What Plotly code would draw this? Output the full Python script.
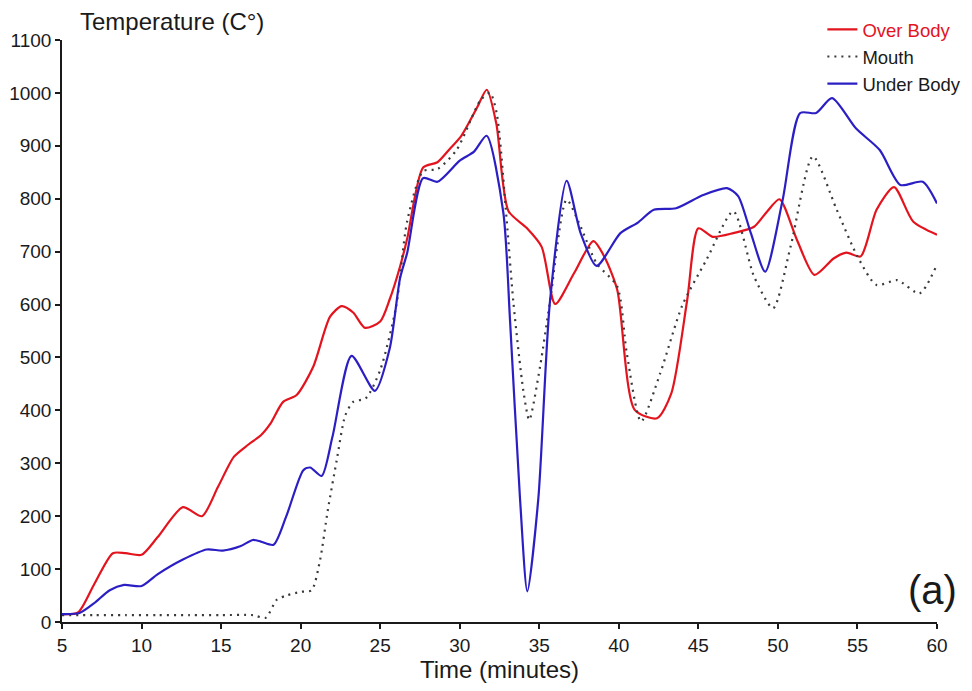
import plotly.graph_objects as go

# ---- data ----
over_t = [5, 6, 7, 8.2, 9, 10, 11, 12.6, 13.8, 14.8, 15.8, 16.7, 17.5, 18.1, 18.9, 19.75, 20.8, 21.85,
          22.58, 23.3, 24.05, 25.0, 25.6, 26.25, 26.7, 27.7, 28.6, 29.4, 30.1, 31.1, 31.7, 32.3, 33.06,
          34.2, 35.15, 36.0, 37.2, 38.4, 39.1, 39.9, 41.0, 42.4, 43.3, 44.3, 45.0, 45.9, 47.2, 48.5,
          49.3, 50.1, 51.2, 52.3, 53.5, 54.3, 55.2, 56.2, 57.3, 58.5, 60]
over_v = [15, 18, 70, 130, 130, 127, 160, 217, 200, 255, 312, 335, 353, 375, 416, 429, 483, 577,
          597, 585, 556, 568, 610, 672, 725, 859, 869, 895, 919, 973, 1006, 942, 777,
          745, 709, 601, 660, 720, 690, 628, 401, 385, 432, 609, 744, 728, 735, 747,
          775, 799, 722, 656, 687, 698, 691, 779, 822, 757, 732]

mouth_t = [5, 7, 9, 11, 13, 15, 17, 17.8, 18.5, 19.1, 20, 20.69, 21.22, 21.7, 22.27, 22.8, 23.3, 24.1,
           25.0, 26.0, 26.7, 27.7, 28.6, 29.8, 31.3, 31.9, 32.32, 32.95, 33.37, 34.0, 34.37, 35.05,
           35.67, 36.72, 37.6, 38.6, 39.9, 40.5, 41.4, 42.6, 44.0, 45.5, 47.2, 48.5, 49.7, 50.8, 52.2,
           53.7, 55.0, 56.2, 57.5, 58.9, 59.9]
mouth_v = [13, 13, 13, 13, 13, 13, 13, 8, 42, 50, 57, 60, 117, 210, 306, 390, 416, 423,
           476, 596, 758, 852, 856, 892, 986, 1000, 962, 760, 605, 437, 382, 483,
           605, 798, 747, 678, 634, 508, 379, 470, 599, 684, 776, 653, 593, 710, 880,
           779, 691, 637, 646, 621, 669]

under_t = [5, 6.1, 7, 8, 8.9, 10, 11, 12.6, 14.1, 15.1, 16.2, 17.0, 17.5, 18.3, 19.1, 20.17, 20.6,
           21.32, 22.0, 23.2, 24.67, 25.6, 26.25, 26.7, 27.7, 28.6, 30.0, 30.9, 31.69, 32.74, 33.16,
           33.79, 34.25, 34.94, 35.67, 36.72, 37.6, 38.6, 40.1, 41.2, 42.2, 43.6, 45.3, 46.8, 47.5,
           48.3, 49.2, 50.3, 51.4, 52.4, 53.4, 54.9, 56.4, 57.7, 59.1, 60]
under_v = [15, 17, 35, 60, 70, 68, 90, 118, 137, 135, 143, 155, 152, 146, 200, 287, 292,
           276, 350, 503, 437, 517, 650, 698, 839, 832, 872, 889, 919, 774, 571,
           233, 58, 233, 605, 834, 735, 673, 735, 755, 779, 782, 807, 820, 805,
           735, 662, 798, 962, 962, 990, 933, 892, 826, 832, 791]

x_ticks = [5, 10, 15, 20, 25, 30, 35, 40, 45, 50, 55, 60]
y_ticks = list(range(0, 1101, 100))

RED = "#e3141e"
BLUE = "#2b1fc4"
FONT = "Liberation Sans, Arial, sans-serif"

fig = go.Figure()
fig.add_trace(go.Scatter(x=over_t, y=over_v, mode="lines", legendgroup="g",
                         name=f"<span style='color:{RED}'>Over Body</span>",
                         line=dict(color=RED, width=2.2, shape="spline", smoothing=0.7)))
fig.add_trace(go.Scatter(x=mouth_t, y=mouth_v, mode="lines", legendgroup="g", name="Mouth",
                         line=dict(color="#3a3a3a", width=2.2, dash="2px,5px", shape="spline", smoothing=0.7)))
fig.add_trace(go.Scatter(x=under_t, y=under_v, mode="lines", legendgroup="g", name="Under Body",
                         line=dict(color=BLUE, width=2.2, shape="spline", smoothing=0.7)))

fig.update_layout(
    width=972, height=691,
    margin=dict(l=62, r=35, t=40, b=69, autoexpand=False),
    paper_bgcolor="white", plot_bgcolor="white",
    font=dict(family=FONT, color="#1a1a1a", size=19),
    showlegend=True,
    legend=dict(x=0.869, y=1.05, xanchor="left", yanchor="top",
                font=dict(size=18.5, color="#1a1a1a"), bgcolor="rgba(0,0,0,0)",
                tracegroupgap=0, itemwidth=30),
    xaxis=dict(range=[5, 60], tickvals=x_ticks, showgrid=False, zeroline=False,
               showline=True, linecolor="#1a1a1a", linewidth=1.5,
               ticks="outside", ticklen=5, tickwidth=1.5, tickcolor="#1a1a1a",
               tickfont=dict(size=19),
               title=dict(text="Time (minutes)", font=dict(size=24), standoff=5)),
    yaxis=dict(range=[0, 1100], tickvals=y_ticks, showgrid=False, zeroline=False,
               showline=True, linecolor="#1a1a1a", linewidth=1.5,
               ticks="outside", ticklen=5, tickwidth=1.5, tickcolor="#1a1a1a",
               tickfont=dict(size=19)),
    annotations=[
        dict(text="Temperature (C°)", xref="paper", yref="paper", x=0.018, y=1.031,
             xanchor="left", yanchor="middle", showarrow=False, font=dict(size=24)),
        dict(text="(a)", xref="paper", yref="paper", x=1.025, y=0.055,
             xanchor="right", yanchor="middle", showarrow=False, font=dict(size=40)),
    ],
)

fig.write_html("out.html")
